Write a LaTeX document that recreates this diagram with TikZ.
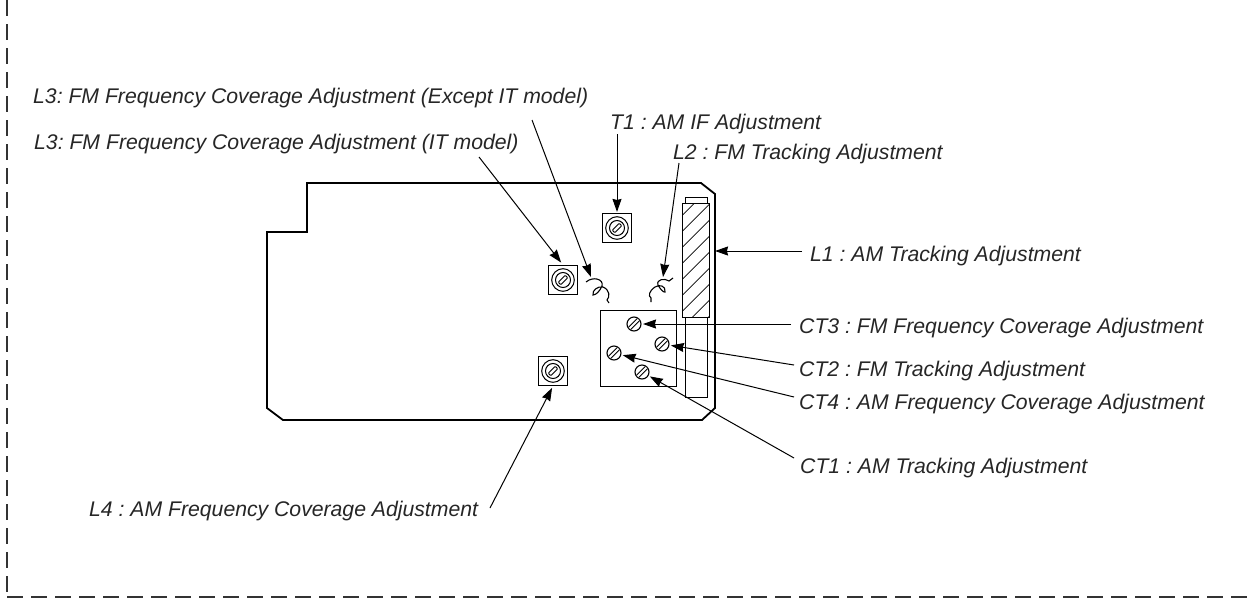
\documentclass[tikz,border=0pt]{standalone}
\usepackage{fontspec}
\setmainfont{Liberation Sans}
\usepackage{tikz}
\usetikzlibrary{arrows.meta}
\tikzset{
	lbl/.style={anchor=base west,inner sep=0pt,font=\fontsize{21.2}{24}\selectfont\itshape\frenchspacing,text=black!85},
	arr/.style={-{Stealth[length=13pt,width=9pt,inset=1pt]},line width=1pt},
	trimbox/.style={draw,line width=1.1pt,minimum size=29pt,inner sep=0pt},
	screw/.style={circle,draw,line width=1.1pt,minimum size=14pt,inner sep=0pt,outer sep=2pt},
	frameline/.style={line width=1.1pt,black!80,dash pattern=on 16pt off 8pt},
}
\begin{document}
\begin{tikzpicture}[x=1pt,y=-1pt]
		\useasboundingbox (0,0) rectangle (1254,598);
		% outer frame
		\draw [frameline] (7,0) -- (7,597);
		\draw [frameline] (7,597) -- (1254,597);
		% board
		\draw [line width=1.8pt] (307,183) -- (701,183) -- (715,194) -- (715,408) -- (702,420) -- (283,420) -- (267,408) -- (267,232) -- (307,232) -- cycle;
		% coil and box
		\draw [line width=1pt] (685,197) rectangle (707,203);
		\draw [line width=1pt] (685,317) rectangle (707,397);
		\node [draw,line width=1pt,minimum width=27pt,minimum height=114pt,inner sep=0pt,path picture={
			\foreach \y in {-44,-28,...,100} \draw [line width=.7pt] (-14,\y) -- (14,\y-28);
		}] (l1coil) at (695.5,260) {};
		\node [draw,line width=1pt,minimum size=76pt,inner sep=0pt] (ctbox) at (638,348) {};
		% trimmers
		\node [trimbox] (t1) at (617,228) {};
		\node [trimbox] (l3it) at (563,280) {};
		\node [trimbox] (l4) at (553,371) {};
		\foreach \n in {t1,l3it,l4} {
			\begin{scope}[shift={(\n)},rotate=45]
				\draw [line width=1pt] (0,0) circle (11.3pt);
				\draw [line width=1pt] (0,0) circle (7.5pt);
				\draw [line width=.9pt,rounded corners=1pt] (-5,-1.8) rectangle (5,1.8);
			\end{scope}
		}
		% screws
		\node [screw] (ct3) at (634,324) {};
		\node [screw] (ct2) at (662,344) {};
		\node [screw] (ct4) at (614,353) {};
		\node [screw] (ct1) at (642,372) {};
		\foreach \n in {ct3,ct2,ct4,ct1} {
			\begin{scope}[shift={(\n)},rotate=45]
				\draw [line width=1pt] (-6,-1.6) -- (6,-1.6);
				\draw [line width=1pt] (-6,1.6) -- (6,1.6);
			\end{scope}
		}
		% air coils
		\draw [line width=1.1pt] (586,282) .. controls (593,276) and (604,279) .. (602,286) .. controls (600,291) and (596,295) .. (593,295) .. controls (592,290) and (598,286) .. (603,287) .. controls (610,290) and (610,297) .. (607,300) -- (609,303);
		\draw [line width=1.1pt] (673,278) -- (669,281) .. controls (665,278) and (656,279) .. (658,285) .. controls (660,289) and (664,293) .. (665,292) .. controls (666,286) and (660,284) .. (655,287) .. controls (649,291) and (648,296) .. (651,298) -- (651,302);
		% labels
		\node [lbl] (l3exlbl) at (33,103) {L3: FM Frequency Coverage Adjustment (Except IT model)};
		\node [lbl] (l3itlbl) at (34,149) {L3: FM Frequency Coverage Adjustment (IT model)};
		\node [lbl] (t1lbl) at (610,129) {T1 : AM IF Adjustment};
		\node [lbl] (l2lbl) at (673,159) {L2 : FM Tracking Adjustment};
		\node [lbl] (l1lbl) at (810,261) {L1 : AM Tracking Adjustment};
		\node [lbl] (ct3lbl) at (799,333) {CT3 : FM Frequency Coverage Adjustment};
		\node [lbl] (ct2lbl) at (799,376) {CT2 : FM Tracking Adjustment};
		\node [lbl] (ct4lbl) at (799,409) {CT4 : AM Frequency Coverage Adjustment};
		\node [lbl] (ct1lbl) at (800,473) {CT1 : AM Tracking Adjustment};
		\node [lbl] (l4lbl) at (89,516) {L4 : AM Frequency Coverage Adjustment};
		% free ends of the arrows
		\coordinate (l3exend) at (532,120);
		\coordinate (l3exfm) at (591,277);
		\coordinate (l3itend) at (479,157);
		\coordinate (t1end) at (617,134);
		\coordinate (l2end) at (679,163);
		\coordinate (l2fm) at (663,277);
		\coordinate (l1end) at (802,251);
		\coordinate (l1tip) at (715,251);
		\coordinate (ct3end) at (791,324);
		\coordinate (ct2end) at (794,365);
		\coordinate (ct4end) at (794,397);
		\coordinate (ct1end) at (794,458);
		\coordinate (l4end) at (490,508);
		% arrows
		\draw [arr] (l3exend) -- (l3exfm);
		\draw [arr,shorten >=3pt] (l3itend) -- (l3it.north);
		\draw [arr,shorten >=1pt] (t1end) -- (t1.north);
		\draw [arr] (l2end) -- (l2fm);
		\draw [arr] (l1end) -- (l1tip);
		\draw [arr] (ct3end) -- (ct3);
		\draw [arr] (ct2end) -- (ct2);
		\draw [arr] (ct4end) -- (ct4);
		\draw [arr] (ct1end) -- (ct1);
		\draw [arr,shorten >=2pt] (l4end) -- (l4.south);
\end{tikzpicture}
\end{document}
